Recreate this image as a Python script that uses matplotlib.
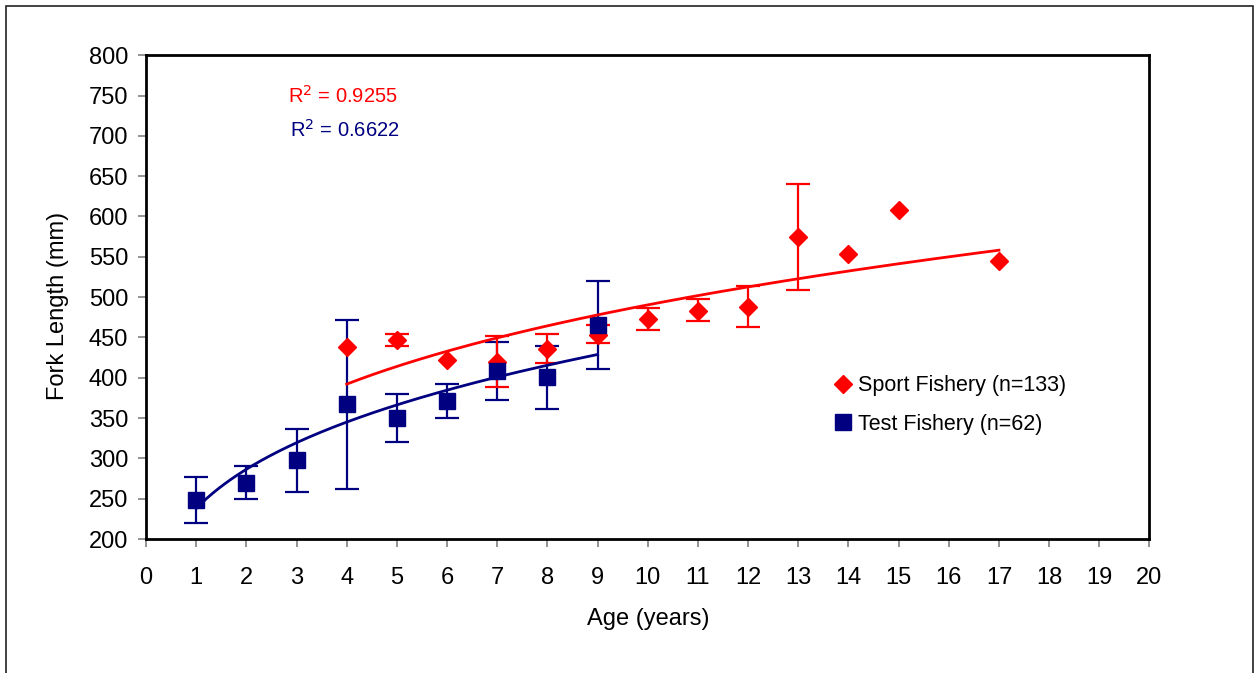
import numpy as np
import matplotlib
matplotlib.use("Agg")
import matplotlib.pyplot as plt
from matplotlib.patches import Rectangle
from matplotlib.lines import Line2D

plt.rcParams["font.family"] = ["Liberation Sans", "DejaVu Sans"]

# Test Fishery (blauw) - gemiddelde en foutgrenzen
test_age = [1, 2, 3, 4, 5, 6, 7, 8, 9]
test_mean = [248, 270, 298, 367, 350, 371, 408, 401, 465]
test_low = [220, 250, 258, 262, 320, 350, 372, 361, 411]
test_high = [277, 291, 337, 472, 380, 392, 444, 440, 520]

# Sport Fishery (rood)
sport_age = [4, 5, 6, 7, 8, 9, 10, 11, 12, 13, 14, 15, 17]
sport_mean = [438, 447, 422, 420, 436, 453, 473, 483, 488, 575, 554, 608, 545]
sport_low = [np.nan, 440, np.nan, 388, 418, 443, 459, 470, 463, 509, np.nan, np.nan, np.nan]
sport_high = [np.nan, 454, np.nan, 452, 454, 466, 486, 498, 514, 640, np.nan, np.nan, np.nan]

sport_fit = (279.6, 0.244, 4, 17)
test_fit = (238.0, 0.268, 1, 9)
sport_r2 = "0.9255"
test_r2 = "0.6622"

RED = "#ff0000"
BLUE = "#000080"
W, H = 1259, 673

fig = plt.figure(figsize=(W / 100, H / 100), dpi=100)
ax = fig.add_axes([0.116, 0.199, 0.797, 0.719])

# foutbalken
t_mean = np.array(test_mean, float)
ax.errorbar(test_age, t_mean,
            yerr=[t_mean - np.array(test_low), np.array(test_high) - t_mean],
            fmt="none", ecolor=BLUE, elinewidth=1.6, capsize=8.5, capthick=1.6, zorder=2)

s_mean = np.array(sport_mean, float)
s_low = np.array(sport_low, float)
s_high = np.array(sport_high, float)
has_err = ~np.isnan(s_low)
ax.errorbar(np.array(sport_age)[has_err], s_mean[has_err],
            yerr=[s_mean[has_err] - s_low[has_err], s_high[has_err] - s_mean[has_err]],
            fmt="none", ecolor=RED, elinewidth=1.6, capsize=8.5, capthick=1.6, zorder=2)

# markers
ax.plot(sport_age, sport_mean, "D", color=RED, markersize=9.5, zorder=3)
ax.plot(test_age, test_mean, "s", color=BLUE, markersize=11.5, zorder=4)

# trendlijnen
for (a, b, x0, x1), col in [(sport_fit, RED), (test_fit, BLUE)]:
    xx = np.linspace(x0, x1, 200)
    ax.plot(xx, a * xx ** b, color=col, lw=2.0, zorder=5)

fig.text(288 / W, 1 - 96 / H, "R$^2$ = " + sport_r2, color=RED, fontsize=14.5,
         va="center", ha="left")
fig.text(290 / W, 1 - 130 / H, "R$^2$ = " + test_r2, color=BLUE, fontsize=14.5,
         va="center", ha="left")

ax.set_xlim(0, 20)
ax.set_ylim(200, 800)
ax.set_xticks(range(0, 21))
ax.set_yticks(range(200, 801, 50))
ax.tick_params(axis="both", direction="out", length=6, width=1.2, color="#808080",
               labelsize=17, pad=7)
ax.tick_params(axis="x", pad=14)
for side in ax.spines.values():
    side.set_linewidth(2)
    side.set_color("black")

ax.set_xlabel("Age (years)", fontsize=17, labelpad=14)
ax.set_ylabel("Fork Length (mm)", fontsize=17)
ax.yaxis.set_label_coords(-0.077, 0.481)

handles = [
    Line2D([], [], marker="D", color=RED, ls="none", markersize=9.5),
    Line2D([], [], marker="s", color=BLUE, ls="none", markersize=11),
]
ax.legend(handles, ["Sport Fishery (n=133)", "Test Fishery (n=62)"],
          loc="center left", bbox_to_anchor=(0.667, 0.277), frameon=False,
          fontsize=15.5, handlelength=0.8, handletextpad=0.3, labelspacing=0.82)

# buitenrand van de grafiek
fig.add_artist(Rectangle((6 / W, -0.1), 1247 / W, 1.1 - 6 / H,
                         transform=fig.transFigure, fill=False,
                         edgecolor="#222222", lw=1.2))

fig.savefig("out.png", dpi=100)
